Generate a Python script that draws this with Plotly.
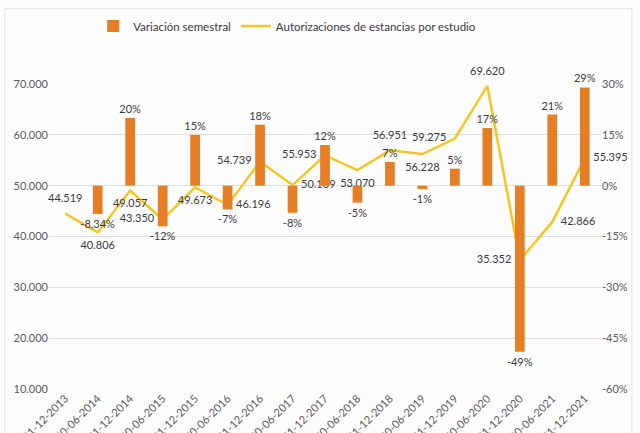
import plotly.graph_objects as go

fechas = ["31-12-2013", "30-06-2014", "31-12-2014", "30-06-2015", "31-12-2015",
          "30-06-2016", "31-12-2016", "30-06-2017", "31-12-2017", "30-06-2018",
          "31-12-2018", "30-06-2019", "31-12-2019", "30-06-2020", "31-12-2020",
          "30-06-2021", "31-12-2021"]
autorizaciones = [44519, 40806, 49057, 43350, 49673, 46196, 54739, 50109, 55953,
                  53070, 56951, 56228, 59275, 69620, 35352, 42866, 55395]
variacion = [None, -8.34, 20, -12, 15, -7, 18, -8, 12, -5, 7, -1, 5, 17, -49, 21, 29]
pos_etiquetas = ["top center", "bottom center", "bottom center", "middle left",
                 "bottom center", "middle right", "middle left", "middle right",
                 "middle left", "bottom center", "top center", "bottom center",
                 "middle left", "top center", "middle left", "middle right",
                 "middle right"]
ticks_izq = [10000, 20000, 30000, 40000, 50000, 60000, 70000]
ticks_der = [-60, -45, -30, -15, 0, 15, 30]


def miles(v):
    return f"{v:,}".replace(",", ".")


def pct(v):
    if v is None:
        return ""
    if float(v).is_integer():
        return f"{int(v)}%"
    return f"{v:.2f}%".replace(".", ",")


FONT = "Lato"
NARANJA = "#E67E25"
AMARILLO = "#F3C623"
TXT = "#3A3A3A"
GRIS = "#595959"

fig = go.Figure()
fig.add_trace(go.Bar(
    x=fechas, y=variacion, name="Variación semestral", yaxis="y2",
    marker=dict(color=NARANJA, line=dict(width=0)), width=0.3,
    text=[pct(v) for v in variacion], textposition="outside",
    constraintext="none",
    textfont=dict(family=FONT, size=11, color=TXT),
    outsidetextfont=dict(family=FONT, size=11, color=TXT),
    cliponaxis=False,
))
fig.add_trace(go.Scatter(
    x=fechas, y=autorizaciones, name="Autorizaciones de estancias por estudio",
    mode="lines+markers+text", line=dict(color=AMARILLO, width=2.5),
    marker=dict(size=12, color="rgba(0,0,0,0)", line=dict(width=0)),
    text=[miles(v) for v in autorizaciones], textposition=pos_etiquetas,
    textfont=dict(family=FONT, size=11, color=TXT),
    cliponaxis=False,
))

fig.update_layout(
    width=640, height=433,
    margin=dict(l=49, r=39, t=81, b=44),
    paper_bgcolor="#FDFDFE", plot_bgcolor="#FDFDFE",
    font=dict(family=FONT, size=11, color=GRIS),
    showlegend=True,
    legend=dict(orientation="h", x=0.08, xanchor="left", y=1.19, yanchor="middle",
                font=dict(family=FONT, size=11.5, color=TXT),
                bgcolor="rgba(0,0,0,0)", itemwidth=30),
    bargap=0.7,
    xaxis=dict(type="category", range=[-0.5, len(fechas) - 0.5], tickangle=-45,
               showgrid=False, showline=False, ticks="", automargin=False,
               tickfont=dict(family=FONT, size=11, color=GRIS)),
    yaxis=dict(range=[10000, 70000], tickvals=ticks_izq,
               ticktext=[miles(v) for v in ticks_izq],
               showgrid=True, gridcolor="#DEDEDE", gridwidth=1, zeroline=False,
               showline=False, ticks="", automargin=False,
               tickfont=dict(family=FONT, size=11, color=GRIS)),
    yaxis2=dict(range=[-60, 30], tickvals=ticks_der,
                ticktext=[f"{v}%" for v in ticks_der],
                overlaying="y", side="right", showgrid=False, zeroline=False,
                showline=False, ticks="", automargin=False,
                tickfont=dict(family=FONT, size=11, color=GRIS)),
    shapes=[dict(type="rect", xref="paper", yref="paper",
                 x0=-0.08, x1=1.056, y0=-0.3, y1=1.247,
                 line=dict(color="#E2E2E2", width=1), fillcolor="rgba(0,0,0,0)",
                 layer="below")],
)

fig.write_html("out.html")
